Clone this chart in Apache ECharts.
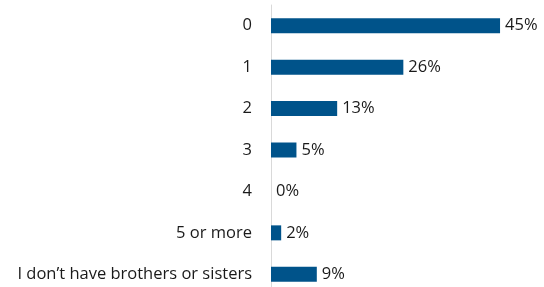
<!DOCTYPE html>
<html>
<head>
<meta charset="utf-8">
<script src="https://cdn.jsdelivr.net/npm/echarts@6/dist/echarts.min.js"></script>
<style>
  html, body { margin: 0; padding: 0; background: #ffffff; overflow: hidden; }
  #chart { width: 544px; height: 296px; }
</style>
</head>
<body>
<div id="chart"></div>
<script>
const categories = ['0', '1', '2', '3', '4', '5 or more', 'I don\u2019t have brothers or sisters'];
const shares = [45, 26, 13, 5, 0, 2, 9];

const barColor = '#00538a';
const textColor = '#1a1a1a';

// the plot runs past the bottom edge of the 287px window, as in the source image
const chart = echarts.init(document.getElementById('chart'));
chart.setOption({
  backgroundColor: '#ffffff',
  animation: false,
  grid: { left: 271, top: 5, width: 254.5, height: 290 },
  xAxis: {
    type: 'value',
    min: 0,
    max: 50,
    show: false,
  },
  yAxis: {
    type: 'category',
    data: categories,
    inverse: true,
    axisLine: { show: true, lineStyle: { color: '#d9d9d9', width: 1 } },
    axisTick: { show: false },
    axisLabel: {
      color: textColor,
      fontFamily: 'Open Sans',
      fontSize: 16.5,
      margin: 19,
    },
    splitLine: { show: false },
  },
  series: [
    {
      type: 'bar',
      data: shares,
      barWidth: 15,
      itemStyle: { color: barColor },
      label: {
        show: true,
        position: 'right',
        distance: 5,
        color: textColor,
        fontFamily: 'Open Sans',
        fontSize: 16.5,
        formatter: p => p.value + '%',
      },
    },
  ],
});

window.addEventListener('resize', () => chart.resize());
</script>
</body>
</html>
